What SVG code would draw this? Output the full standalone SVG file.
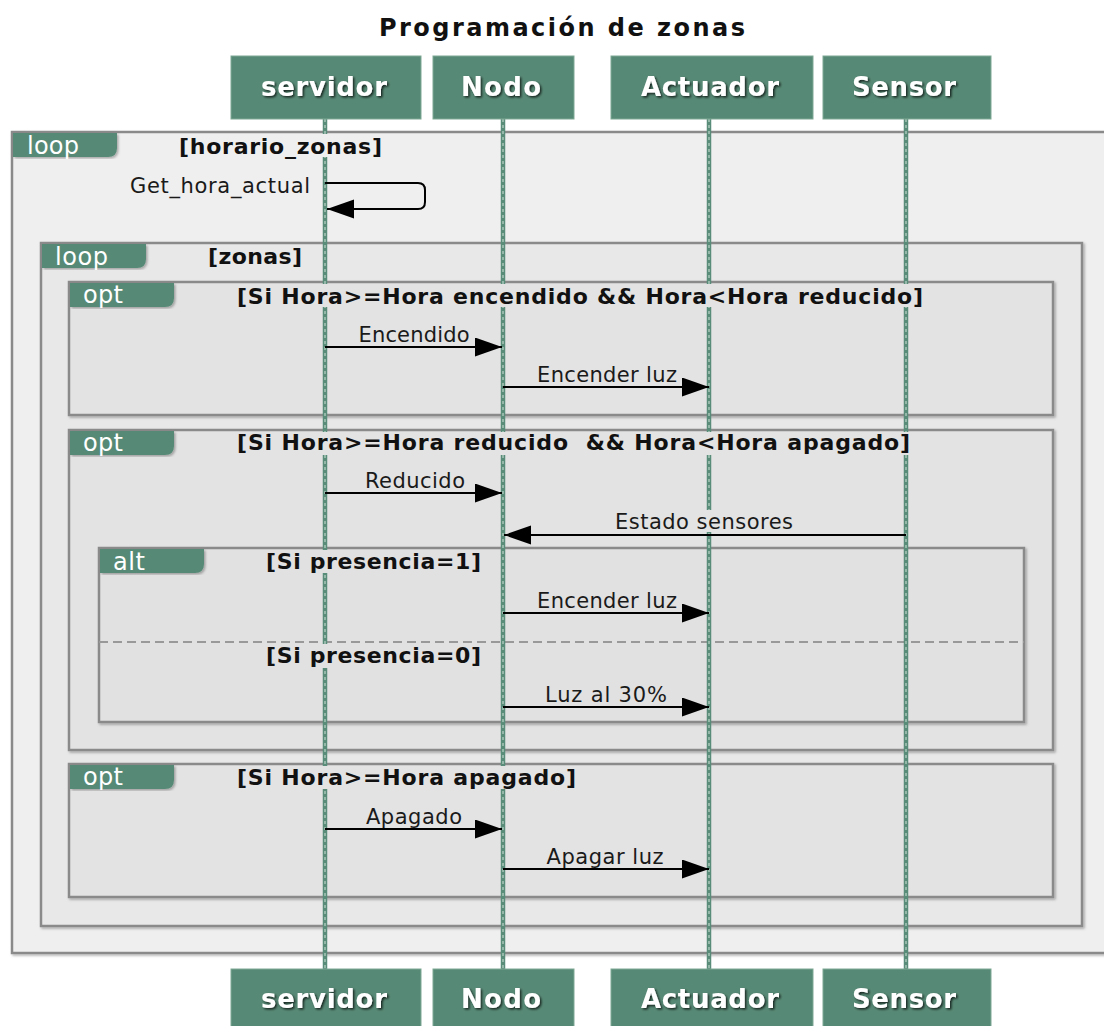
<svg xmlns="http://www.w3.org/2000/svg" width="1104" height="1026" viewBox="0 0 1104 1026">
  <defs>
    <filter id="frameShadow" x="-5%" y="-5%" width="110%" height="110%">
      <feDropShadow dx="1.5" dy="1.5" stdDeviation="1.2" flood-color="#000" flood-opacity="0.3"/>
    </filter>
    <filter id="textShadow" x="-10%" y="-20%" width="120%" height="150%">
      <feDropShadow dx="1.5" dy="1.5" stdDeviation="1.2" flood-color="#000" flood-opacity="0.75"/>
    </filter>
    <marker id="arrowHead" markerUnits="userSpaceOnUse" markerWidth="28" markerHeight="20" refX="27" refY="9.5" orient="auto">
      <path d="M0,0 L27,9.5 L0,19 Z" fill="#000"/>
    </marker>
  </defs>
  <style>
    .title { font-family: "DejaVu Sans", Verdana, sans-serif; font-weight: bold; font-size: 24px; fill: #111; }
    .pbox { fill: #578a76; stroke: #7ea895; stroke-width: 1; }
    .ptext { font-family: "DejaVu Sans", Verdana, sans-serif; font-weight: bold; font-size: 26px; fill: #fff; }
    .life { stroke: #5a8d79; stroke-width: 4.5; }
    .lifeDash { stroke: #cfe2d9; stroke-width: 1; stroke-dasharray: 3 3; }
    .frame { stroke: #8a8a8a; stroke-width: 2.5; }
    .f0 { fill: #efefef; }
    .f1 { fill: #e8e8e8; }
    .f2 { fill: #e3e3e3; }
    .f3 { fill: #e1e1e1; }
    .tab { fill: #578a76; }
    .tabtext { font-family: "DejaVu Sans", Verdana, sans-serif; font-size: 24px; fill: #fff; }
    .guard { font-family: "DejaVu Sans", Verdana, sans-serif; font-weight: bold; font-size: 22px; fill: #111; white-space: pre; }
    .sep { stroke: #999; stroke-width: 2; stroke-dasharray: 9 5; fill: none; }
    .msg { stroke: #000; stroke-width: 2; fill: none; marker-end: url(#arrowHead); }
    .label { font-family: "DejaVu Sans", Verdana, sans-serif; font-size: 21px; fill: #1a1a1a; text-anchor: middle; }
  </style>

  <rect width="1104" height="1026" fill="#fff"/>

  <text class="title" x="562" y="36" text-anchor="middle" textLength="366" lengthAdjust="spacing">Programación de zonas</text>

  <!-- combined fragments -->
  <g id="frames">
    <g id="frame-loop-horario">
      <rect class="frame f0" x="12" y="132" width="1100" height="821" filter="url(#frameShadow)"/>
      <path class="tab" d="M13,133 h104 v15 q0,9 -9,9 H13 Z" filter="url(#frameShadow)"/>
      <text class="tabtext" x="27" y="154" textLength="52" lengthAdjust="spacing">loop</text>
    </g>
    <g id="frame-loop-zonas">
      <rect class="frame f1" x="41" y="243" width="1041" height="683" filter="url(#frameShadow)"/>
      <path class="tab" d="M42,244 h104 v15 q0,9 -9,9 H42 Z" filter="url(#frameShadow)"/>
      <text class="tabtext" x="55" y="265" textLength="53" lengthAdjust="spacing">loop</text>
    </g>
    <g id="frame-opt-encendido">
      <rect class="frame f2" x="69" y="282" width="984" height="133" filter="url(#frameShadow)"/>
      <path class="tab" d="M70,283 h104 v15 q0,9 -9,9 H70 Z" filter="url(#frameShadow)"/>
      <text class="tabtext" x="83" y="303" textLength="40" lengthAdjust="spacing">opt</text>
    </g>
    <g id="frame-opt-reducido">
      <rect class="frame f2" x="69" y="430" width="984" height="320" filter="url(#frameShadow)"/>
      <path class="tab" d="M70,431 h104 v15 q0,9 -9,9 H70 Z" filter="url(#frameShadow)"/>
      <text class="tabtext" x="83" y="451" textLength="40" lengthAdjust="spacing">opt</text>
    </g>
    <g id="frame-alt-presencia">
      <rect class="frame f3" x="99" y="548" width="925" height="174" filter="url(#frameShadow)"/>
      <path class="tab" d="M100,549 h104 v15 q0,9 -9,9 H100 Z" filter="url(#frameShadow)"/>
      <text class="tabtext" x="113" y="570" textLength="32" lengthAdjust="spacing">alt</text>
      <line class="sep" x1="99" y1="642" x2="1024" y2="642"/>
    </g>
    <g id="frame-opt-apagado">
      <rect class="frame f2" x="69" y="764" width="984" height="133" filter="url(#frameShadow)"/>
      <path class="tab" d="M70,765 h104 v15 q0,9 -9,9 H70 Z" filter="url(#frameShadow)"/>
      <text class="tabtext" x="83" y="785" textLength="40" lengthAdjust="spacing">opt</text>
    </g>
  </g>

  <!-- participants: head box, lifeline, foot box -->
  <g id="servidor">
    <line class="life" x1="325" y1="119" x2="325" y2="969"/>
    <line class="lifeDash" x1="325" y1="119" x2="325" y2="969"/>
    <rect class="pbox" x="231" y="56" width="190" height="63"/>
    <text class="ptext" x="324" y="96" text-anchor="middle" textLength="126" lengthAdjust="spacing" filter="url(#textShadow)">servidor</text>
    <rect class="pbox" x="231" y="969" width="190" height="63"/>
    <text class="ptext" x="324" y="1008" text-anchor="middle" textLength="126" lengthAdjust="spacing" filter="url(#textShadow)">servidor</text>
  </g>
  <g id="Nodo">
    <line class="life" x1="503" y1="119" x2="503" y2="969"/>
    <line class="lifeDash" x1="503" y1="119" x2="503" y2="969"/>
    <rect class="pbox" x="433" y="56" width="141" height="63"/>
    <text class="ptext" x="501" y="96" text-anchor="middle" textLength="80" lengthAdjust="spacing" filter="url(#textShadow)">Nodo</text>
    <rect class="pbox" x="433" y="969" width="141" height="63"/>
    <text class="ptext" x="501" y="1008" text-anchor="middle" textLength="80" lengthAdjust="spacing" filter="url(#textShadow)">Nodo</text>
  </g>
  <g id="Actuador">
    <line class="life" x1="709" y1="119" x2="709" y2="969"/>
    <line class="lifeDash" x1="709" y1="119" x2="709" y2="969"/>
    <rect class="pbox" x="611" y="56" width="202" height="63"/>
    <text class="ptext" x="710" y="96" text-anchor="middle" textLength="138" lengthAdjust="spacing" filter="url(#textShadow)">Actuador</text>
    <rect class="pbox" x="611" y="969" width="202" height="63"/>
    <text class="ptext" x="710" y="1008" text-anchor="middle" textLength="138" lengthAdjust="spacing" filter="url(#textShadow)">Actuador</text>
  </g>
  <g id="Sensor">
    <line class="life" x1="906" y1="119" x2="906" y2="969"/>
    <line class="lifeDash" x1="906" y1="119" x2="906" y2="969"/>
    <rect class="pbox" x="823" y="56" width="168" height="63"/>
    <text class="ptext" x="904" y="96" text-anchor="middle" textLength="104" lengthAdjust="spacing" filter="url(#textShadow)">Sensor</text>
    <rect class="pbox" x="823" y="969" width="168" height="63"/>
    <text class="ptext" x="904" y="1008" text-anchor="middle" textLength="104" lengthAdjust="spacing" filter="url(#textShadow)">Sensor</text>
  </g>

  <!-- guard conditions, each on a patch of its fragment's fill -->
  <g id="guards">
    <rect class="f0" x="177" y="134" width="209" height="23"/>
    <text class="guard" x="179" y="154" textLength="203" lengthAdjust="spacing">[horario_zonas]</text>
    <rect class="f1" x="206" y="245" width="99" height="23"/>
    <text class="guard" x="208" y="264" textLength="94" lengthAdjust="spacing">[zonas]</text>
    <rect class="f2" x="234" y="284" width="692" height="23"/>
    <text class="guard" x="237" y="304" textLength="686" lengthAdjust="spacing">[Si Hora&gt;=Hora encendido &amp;&amp; Hora&lt;Hora reducido]</text>
    <rect class="f2" x="234" y="432" width="679" height="23"/>
    <text class="guard" x="237" y="450" textLength="673" lengthAdjust="spacing">[Si Hora&gt;=Hora reducido  &amp;&amp; Hora&lt;Hora apagado]</text>
    <rect class="f3" x="263" y="550" width="221" height="23"/>
    <text class="guard" x="266" y="569" textLength="215" lengthAdjust="spacing">[Si presencia=1]</text>
    <rect class="f3" x="263" y="644" width="221" height="24"/>
    <text class="guard" x="266" y="663" textLength="215" lengthAdjust="spacing">[Si presencia=0]</text>
    <rect class="f2" x="234" y="766" width="345" height="23"/>
    <text class="guard" x="237" y="785" textLength="339" lengthAdjust="spacing">[Si Hora&gt;=Hora apagado]</text>
  </g>

  <!-- messages -->
  <g id="connectors">
    <path class="msg" d="M325,183 H418 Q425,183 425,190 V202 Q425,209 418,209 H327"/>
    <text class="label" x="220" y="193" textLength="180" lengthAdjust="spacing">Get_hora_actual</text>

    <path class="msg" d="M325,347 H502"/>
    <text class="label" x="414" y="342" textLength="111" lengthAdjust="spacing">Encendido</text>

    <path class="msg" d="M503,387 H709"/>
    <text class="label" x="607" y="382" textLength="140" lengthAdjust="spacing">Encender luz</text>

    <path class="msg" d="M325,493 H502"/>
    <text class="label" x="415" y="488" textLength="100" lengthAdjust="spacing">Reducido</text>

    <rect class="f2" x="612" y="510" width="184" height="22"/>
    <path class="msg" d="M906,535 H504"/>
    <text class="label" x="704" y="529" textLength="178" lengthAdjust="spacing">Estado sensores</text>

    <path class="msg" d="M503,613 H709"/>
    <text class="label" x="607" y="608" textLength="140" lengthAdjust="spacing">Encender luz</text>

    <path class="msg" d="M503,707 H709"/>
    <text class="label" x="606" y="702" textLength="122" lengthAdjust="spacing">Luz al 30%</text>

    <path class="msg" d="M325,829 H502"/>
    <text class="label" x="414" y="824" textLength="96" lengthAdjust="spacing">Apagado</text>

    <path class="msg" d="M503,869 H709"/>
    <text class="label" x="605" y="864" textLength="117" lengthAdjust="spacing">Apagar luz</text>
  </g>
</svg>
